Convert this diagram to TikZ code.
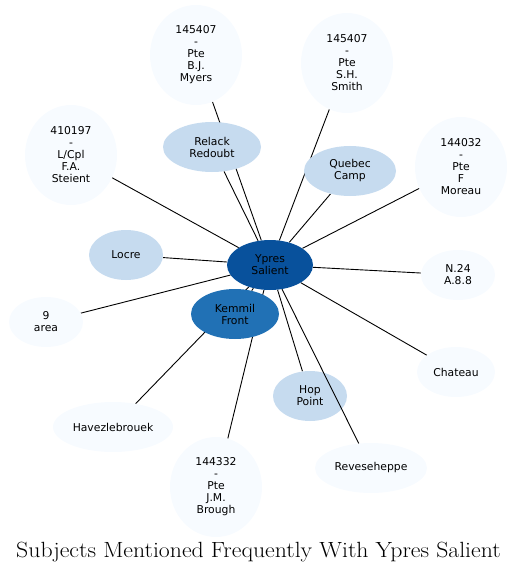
\documentclass[tikz,border=0pt]{standalone}
\usepackage{fontspec}
\usepackage{tikz}
\usetikzlibrary{shapes.geometric,backgrounds}
\newfontfamily\bubblefont{DejaVu Sans}
\definecolor{hubblue}{HTML}{08519C}
\definecolor{midblue}{HTML}{2171B5}
\definecolor{paleblue}{HTML}{C6DBEF}
\definecolor{faintblue}{HTML}{F7FBFF}

\begin{document}
\begin{tikzpicture}[
  x=1pt, y=-1pt,
  bubble/.style={ellipse, inner sep=0pt, align=center,
    font=\bubblefont\fontsize{10.8}{12}\selectfont},
  hub/.style={bubble, fill=hubblue, minimum width=86pt, minimum height=50pt},
  near/.style={bubble, fill=midblue, minimum width=88pt, minimum height=50pt},
  place/.style={bubble, fill=paleblue, minimum height=50pt},
  far/.style={bubble, fill=faintblue, minimum height=50pt},
  tall/.style={far, minimum width=92pt, minimum height=100pt},
  link/.style={draw=black, line width=0.9pt}
]
  \useasboundingbox (0,0) rectangle (517,572);

  \node[hub] (ypres) at (270,265) {Ypres\\Salient};
  \node[near] (kemmil) at (235,314) {Kemmil\\Front};

  \node[place, minimum width=98pt] (relack) at (212,147) {Relack\\Redoubt};
  \node[place, minimum width=92pt] (quebec) at (350,171) {Quebec\\Camp};
  \node[place, minimum width=74pt] (locre) at (126,255) {Locre};
  \node[place, minimum width=74pt] (hop) at (310,396) {Hop\\Point};

  \node[tall] (myers) at (196,55) {145407\\-\\Pte\\B.J.\\Myers};
  \node[tall] (smith) at (347,63) {145407\\-\\Pte\\S.H.\\Smith};
  \node[tall] (steient) at (71,155) {410197\\-\\L/Cpl\\F.A.\\Steient};
  \node[tall] (moreau) at (461,167) {144032\\-\\Pte\\F\\Moreau};
  \node[tall] (brough) at (216,487) {144332\\-\\Pte\\J.M.\\Brough};

  \node[far, minimum width=74pt] (ntwentyfour) at (458,275) {N.24\\A.8.8};
  \node[far, minimum width=74pt] (ninearea) at (46,322) {9\\area};
  \node[far, minimum width=78pt] (chateau) at (456,372) {Chateau};
  \node[far, minimum width=120pt] (havez) at (113,427) {Havezlebrouek};
  \node[far, minimum width=112pt] (reves) at (371,468) {Reveseheppe};

  \begin{scope}[on background layer]
    \foreach \other in {kemmil,relack,quebec,locre,hop,myers,smith,steient,
        moreau,brough,ntwentyfour,ninearea,chateau,havez}
      \draw[link] (ypres) -- (\other);
  \end{scope}
  % this one runs over Hop Point
  \draw[link] (ypres) -- (reves);

  \node[anchor=base, font=\fontsize{22}{24}\selectfont] (title) at (258.5,557)
    {\scalebox{1.08}[1]{Subjects Mentioned Frequently With Ypres Salient}};
\end{tikzpicture}
\end{document}
